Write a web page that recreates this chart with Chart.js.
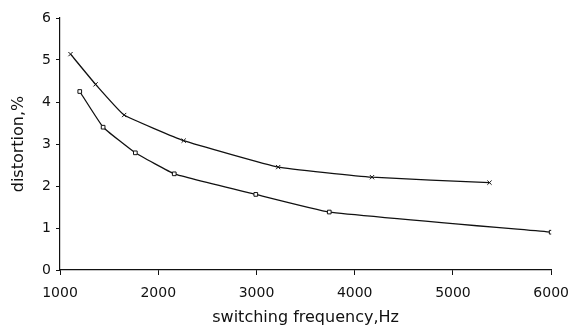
<!DOCTYPE html>
<html>
<head>
<meta charset="utf-8">
<script src="https://cdn.jsdelivr.net/npm/chart.js@4/dist/chart.umd.min.js"></script>
<style>
  html, body { margin: 0; padding: 0; background: #fff; }
  #wrap { width: 579px; height: 328px; }
</style>
</head>
<body>
<div id="wrap"><canvas id="chart" width="579" height="328"></canvas></div>
<script>
// readings
const crossFreq = [1107, 1362, 1653, 2259, 3221, 4176, 5372];
const crossDist = [5.14, 4.42, 3.69, 3.08, 2.45, 2.21, 2.08];
const squareFreq = [1201, 1439, 1767, 2163, 2993, 3741, 6000];
const squareDist = [4.25, 3.40, 2.79, 2.29, 1.80, 1.38, 0.90];
const xTicks = [1000, 2000, 3000, 4000, 5000, 6000];
const yTicks = [0, 1, 2, 3, 4, 5, 6];

const toPoints = (xs, ys) => xs.map((x, i) => ({ x: x, y: ys[i] }));

const family = "'DejaVu Sans', sans-serif";

new Chart(document.getElementById('chart'), {
    type: 'line',
    data: {
        datasets: [{
            data: toPoints(crossFreq, crossDist),
            borderColor: '#111',
            borderWidth: 1.3,
            tension: 0.1,
            pointStyle: 'crossRot',
            pointRadius: 3,
            pointBorderColor: '#111',
            pointBorderWidth: 1
        }, {
            data: toPoints(squareFreq, squareDist),
            borderColor: '#111',
            borderWidth: 1.3,
            tension: 0.1,
            pointStyle: 'rect',
            pointRadius: 2.6,
            pointBackgroundColor: '#fff',
            pointBorderColor: '#111',
            pointBorderWidth: 1
        }]
    },
    options: {
        responsive: false,
        animation: false,
        layout: { padding: { top: 18, right: 22, left: 0, bottom: 0 } },
        plugins: { legend: { display: false }, tooltip: { enabled: false } },
        scales: {
            x: {
                type: 'linear',
                min: 1000,
                max: 6000,
                afterBuildTicks: (scale) => { scale.ticks = xTicks.map(v => ({ value: v })); },
                afterFit: (scale) => { scale.height = 58; },
                border: { color: '#111', width: 1.2 },
                grid: { drawOnChartArea: false, tickLength: 5, color: '#111' },
                ticks: { color: '#111', font: { family: family, size: 14 }, padding: 10, maxRotation: 0,
                         callback: (v) => String(v) },
                title: { display: true, text: 'switching frequency,Hz', color: '#111', font: { family: family, size: 16 }, padding: { top: 2, bottom: 1 } }
            },
            y: {
                min: 0,
                max: 6,
                afterBuildTicks: (scale) => { scale.ticks = yTicks.map(v => ({ value: v })); },
                afterFit: (scale) => { scale.width = 60; },
                border: { color: '#111', width: 1.2 },
                grid: { drawOnChartArea: false, tickLength: 4, color: '#111' },
                ticks: { color: '#111', font: { family: family, size: 14 }, padding: 5,
                         callback: (v) => String(v) },
                title: { display: true, text: 'distortion,%', color: '#111', font: { family: family, size: 16 }, padding: { top: 9, bottom: 4 } }
            }
        }
    }
});
</script>
</body>
</html>
